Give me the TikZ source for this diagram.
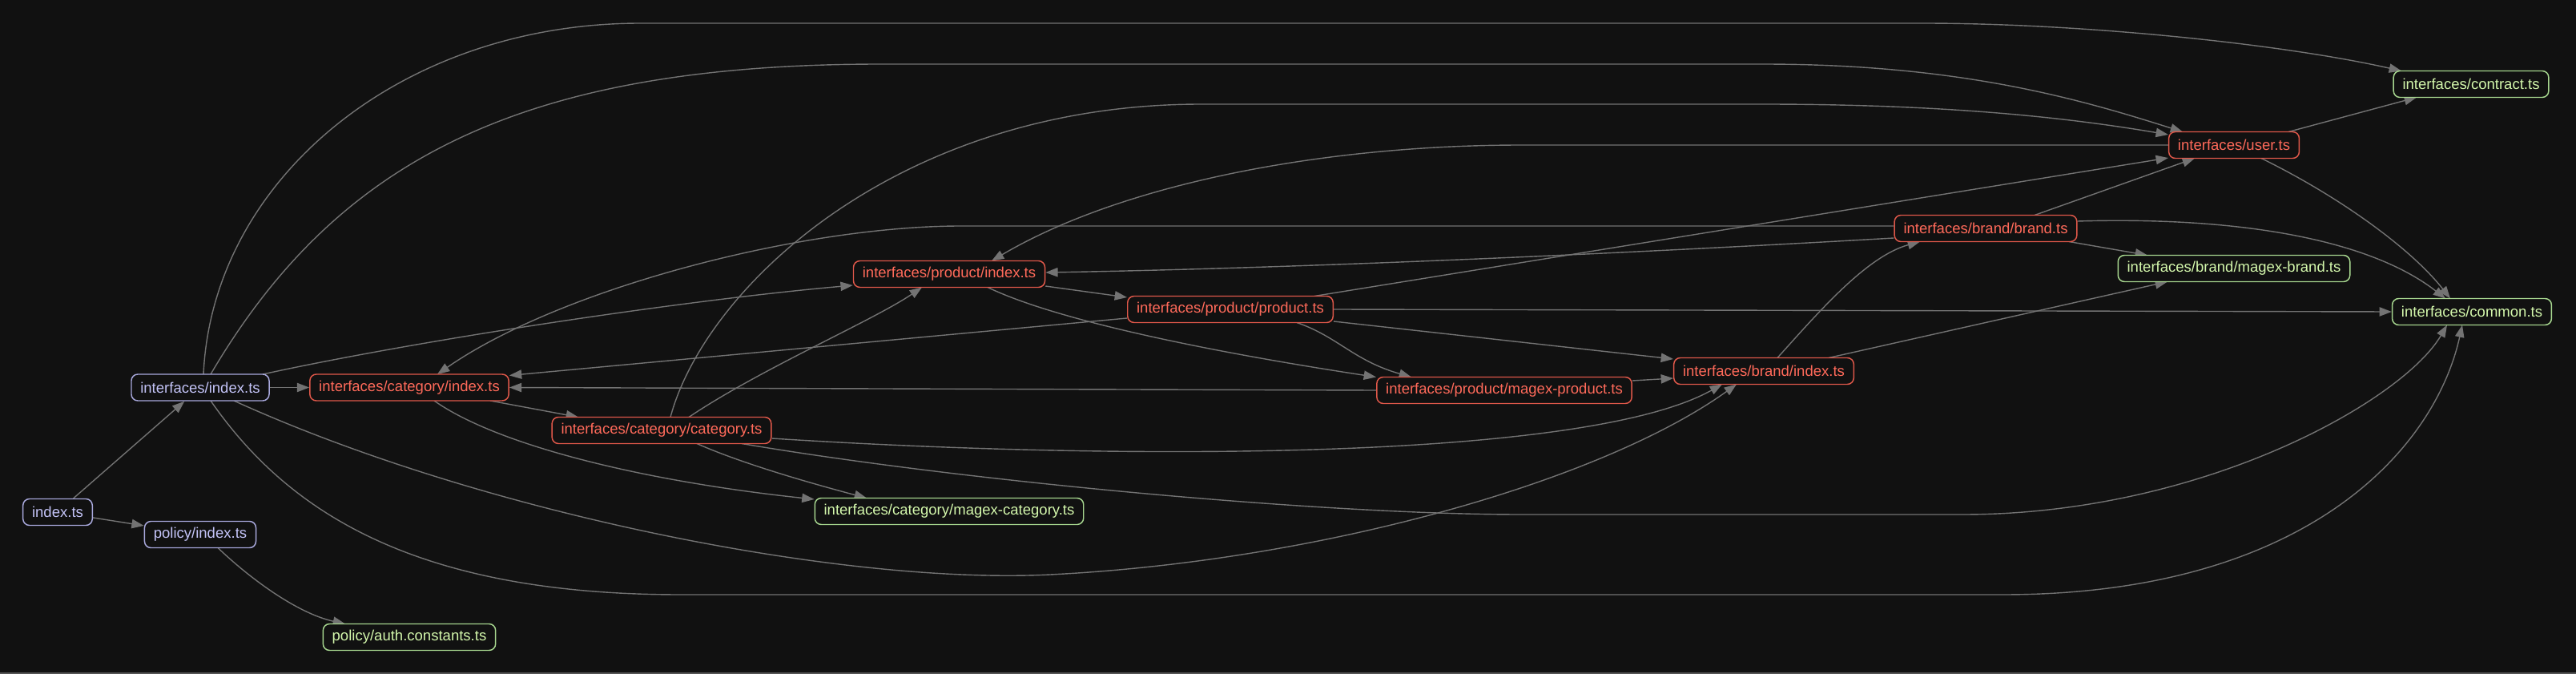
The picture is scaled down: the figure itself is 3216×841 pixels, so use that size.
\documentclass[tikz,border=0pt]{standalone}
\usepackage{fontspec}
\setmainfont{Liberation Sans}
\usetikzlibrary{arrows.meta,calc}
\definecolor{bgc}{HTML}{111111}
\definecolor{edgec}{HTML}{737373}
\definecolor{bluetxt}{HTML}{C4C4F8}
\definecolor{blueline}{HTML}{A8A8DC}
\definecolor{redtxt}{HTML}{FF6A5A}
\definecolor{redline}{HTML}{E0584A}
\definecolor{greentxt}{HTML}{D4F8AC}
\definecolor{greenline}{HTML}{A8D890}
\definecolor{framec}{HTML}{555555}
\pgfdeclarelayer{back}
\pgfdeclarelayer{edges}
\pgfsetlayers{back,edges,main}
\begin{document}
\begin{tikzpicture}[x=0.75pt,y=-0.75pt,
  box/.style={draw, rounded corners=6pt, line width=1.1pt, fill=bgc, minimum height=24.75pt, inner xsep=8.5pt, inner ysep=0pt, font=\fontsize{13.9}{16}\selectfont},
  bluebox/.style={box, draw=blueline, text=bluetxt},
  redbox/.style={box, draw=redline, text=redtxt},
  greenbox/.style={box, draw=greenline, text=greentxt},
  dep/.style={draw=edgec, line width=1.05pt, -{Triangle[length=11.5pt,width=8.5pt]}}
]
\useasboundingbox (0,0) rectangle (3216,841);
\begin{pgfonlayer}{back}
\fill[bgc] (0,0) rectangle (3216,841);
\draw[framec, line width=1.2pt] (0,840) -- (3216,840);
\end{pgfonlayer}

% nodes
\node[bluebox] (idx) at (72,639) {index.ts};
\node[bluebox] (ifidx) at (250,483.5) {interfaces/index.ts};
\node[bluebox] (polidx) at (250,667) {policy/index.ts};
\node[greenbox] (polauth) at (511,795) {policy/auth.constants.ts};
\node[redbox] (catidx) at (511,483.5) {interfaces/category/index.ts};
\node[redbox] (prodidx) at (1185,342) {interfaces/product/index.ts};
\node[redbox] (catcat) at (826,537) {interfaces/category/category.ts};
\node[greenbox] (magexcat) at (1185,638) {interfaces/category/magex-category.ts};
\node[redbox] (prodprod) at (1536,386) {interfaces/product/product.ts};
\node[redbox] (magexprod) at (1878,487) {interfaces/product/magex-product.ts};
\node[redbox] (brandidx) at (2202,463) {interfaces/brand/index.ts};
\node[redbox] (brandbrand) at (2479,285) {interfaces/brand/brand.ts};
\node[greenbox] (contract) at (3085,105) {interfaces/contract.ts};
\node[redbox] (user) at (2789,181) {interfaces/user.ts};
\node[greenbox] (magexbrand) at (2789,335) {interfaces/brand/magex-brand.ts};
\node[greenbox] (common) at (3086,389) {interfaces/common.ts};

\begin{pgfonlayer}{edges}
\draw[dep] (idx) -- (ifidx);
\draw[dep] (idx) -- (polidx);
\draw[dep] ($(polidx)+(22,16.5)$) .. controls (310,720) and (370,765) .. ($(polauth)+(-80,-16.5)$);
\draw[dep] (ifidx) -- (catidx);
\draw[dep] ($(ifidx)+(78,-16.5)$) .. controls (520,425) and (850,375) .. ($(prodidx.west)+(0,14)$);
\draw[dep] ($(ifidx)+(4,-16.5)$) .. controls (265,225) and (499,29) .. (800,29) -- (2400,29) .. controls (2600,29) and (2850,55) .. ($(contract)+(-87,-16.5)$);
\draw[dep] ($(ifidx)+(13,-16.5)$) .. controls (420,200) and (650,80) .. (1100,80) -- (2200,80) .. controls (2450,80) and (2600,125) .. ($(user)+(-64,-16.5)$);
\draw[dep] ($(ifidx)+(42,16.5)$) .. controls (600,640) and (1050,730) .. (1311,717) .. controls (1650,700) and (2000,600) .. ($(brandidx)+(-34,16.5)$);
\draw[dep] ($(ifidx)+(13,16.5)$) .. controls (360,640) and (520,742) .. (850,742) -- (2500,742) .. controls (2880,742) and (3040,560) .. ($(common)+(-12,16.5)$);
\draw[dep] ($(catidx)+(101,16.5)$) -- ($(catcat)+(-104,-16.5)$);
\draw[dep] ($(catidx)+(31,16.5)$) .. controls (620,555) and (800,600) .. ($(magexcat.west)+(0,-15)$);
\draw[dep] ($(catcat)+(44,16.5)$) .. controls (930,580) and (1020,605) .. ($(magexcat)+(-103,-16.5)$);
\draw[dep] ($(catcat)+(34,-16.5)$) .. controls (950,460) and (1090,400) .. ($(prodidx)+(-34,16.5)$);
\draw[dep] ($(catcat)+(11,-16.5)$) .. controls (880,360) and (1120,130) .. (1500,130) -- (2200,130) .. controls (2450,130) and (2600,150) .. ($(user.west)+(0,-13)$);
\draw[dep] ($(catcat.east)+(0,10)$) .. controls (1400,575) and (1980,575) .. ($(brandidx)+(-52,16.5)$);
\draw[dep] ($(catcat)+(100,16.5)$) .. controls (1200,600) and (1650,642) .. (1900,642) -- (2450,642) .. controls (2750,642) and (3000,500) .. ($(common)+(-31,16.5)$);
\draw[dep] ($(prodidx.east)+(0,15)$) -- ($(prodprod.west)+(0,-15)$);
\draw[dep] ($(prodidx)+(48,16.5)$) .. controls (1330,405) and (1550,445) .. ($(magexprod)+(-160,-16.5)$);
\draw[dep] ($(prodprod.west)+(0,11)$) -- ($(catidx.east)+(0,-15)$);
\draw[dep] ($(prodprod)+(105,-16.5)$) -- ($(user.west)+(0,16)$);
\draw[dep] ($(prodprod)+(83,16.5)$) .. controls (1670,420) and (1690,450) .. ($(magexprod)+(-116,-16.5)$);
\draw[dep] ($(prodprod.east)+(0,15)$) -- ($(brandidx.west)+(0,-15)$);
\draw[dep] (prodprod.east) -- (common.west);
\draw[dep] (magexprod.west) -- (catidx.east);
\draw[dep] ($(magexprod.east)+(0,-12)$) -- ($(brandidx.west)+(0,9)$);
\draw[dep] ($(brandidx)+(17,-16.5)$) .. controls (2270,390) and (2330,320) .. ($(brandbrand)+(-82,16.5)$);
\draw[dep] ($(brandidx)+(81,-16.5)$) -- ($(magexbrand)+(-83,16.5)$);
\draw[dep] ($(brandbrand)+(61,-16.5)$) -- ($(user)+(-49,16.5)$);
\draw[dep] ($(brandbrand)+(104,16.5)$) -- ($(magexbrand)+(-108,-16.5)$);
\draw[dep] ($(brandbrand.east)+(0,-9)$) .. controls (2800,270) and (2960,300) .. ($(common)+(-33,-16.5)$);
\draw[dep] ($(brandbrand.west)+(0,-3)$) -- (1200,282) .. controls (1000,282) and (700,360) .. ($(catidx)+(35,-16.5)$);
\draw[dep] ($(brandbrand.west)+(0,12)$) .. controls (2000,318) and (1600,335) .. ($(prodidx.east)+(0,-2)$);
\draw[dep] ($(user)+(68,-16.5)$) -- ($(contract)+(-68,16.5)$);
\draw[dep] ($(user)+(34,16.5)$) .. controls (2920,245) and (3010,310) .. ($(common)+(-27,-16.5)$);
\draw[dep] (user.west) -- (1900,181) .. controls (1650,181) and (1400,230) .. ($(prodidx)+(53,-16.5)$);
\end{pgfonlayer}
\end{tikzpicture}
\end{document}
